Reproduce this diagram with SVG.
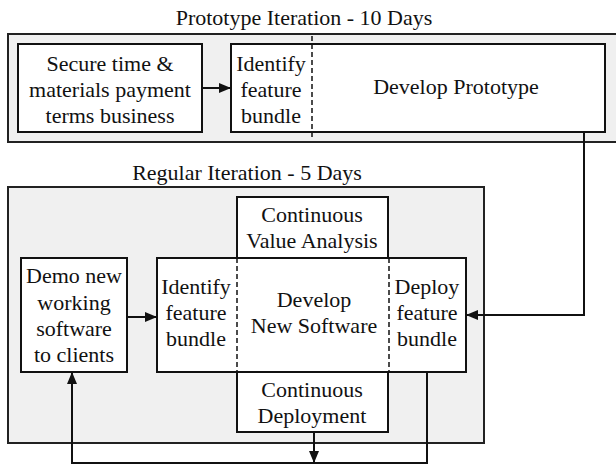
<svg xmlns="http://www.w3.org/2000/svg" width="616" height="465" viewBox="0 0 616 465">
<defs>
<marker id="ah" markerWidth="12" markerHeight="10" refX="11" refY="5" orient="auto" markerUnits="userSpaceOnUse">
<path d="M0,0 L12,5 L0,10 Z" fill="#111"/>
</marker>
<style>
text{font-family:"Liberation Serif","Times New Roman",serif;font-size:22px;fill:#111;text-anchor:middle}
.grp{fill:#f0f0f0;stroke:#222;stroke-width:2}
.box{fill:#fff;stroke:#111;stroke-width:2}
.dash{stroke:#111;stroke-width:1.5;stroke-dasharray:5,3;fill:none}
.conn{fill:none;stroke:#111;stroke-width:2}
</style>
</defs>
<g id="prototype-iteration">
<rect class="grp" x="8" y="34" width="620" height="108"/>
<text x="304" y="25">Prototype Iteration - 10 Days</text>
</g>
<g id="regular-iteration">
<rect class="grp" x="8" y="187" width="476" height="256"/>
<text x="247" y="180">Regular Iteration - 5 Days</text>
</g>
<g id="secure">
<rect class="box" x="18" y="44" width="184" height="88"/>
<text x="110" y="71">Secure time &amp;</text>
<text x="110" y="97">materials payment</text>
<text x="110" y="123">terms business</text>
</g>
<g id="develop-prototype">
<rect class="box" x="231" y="44" width="374" height="88"/>
<line class="dash" x1="312" y1="36" x2="312" y2="140"/>
<text x="271" y="71">Identify</text>
<text x="271" y="97">feature</text>
<text x="271" y="123">bundle</text>
<text x="456" y="94">Develop Prototype</text>
</g>
<g id="cva">
<rect class="box" x="237" y="197" width="151" height="61"/>
<text x="312" y="222">Continuous</text>
<text x="312" y="248">Value Analysis</text>
</g>
<g id="develop-software">
<rect class="box" x="157" y="258" width="309" height="114"/>
<line class="dash" x1="237" y1="258" x2="237" y2="372"/>
<line class="dash" x1="389" y1="258" x2="389" y2="372"/>
<text x="196" y="294">Identify</text>
<text x="196" y="320">feature</text>
<text x="196" y="346">bundle</text>
<text x="314" y="307">Develop</text>
<text x="314" y="333">New Software</text>
<text x="427" y="294">Deploy</text>
<text x="427" y="320">feature</text>
<text x="427" y="346">bundle</text>
</g>
<g id="cd">
<rect class="box" x="237" y="372" width="151" height="60"/>
<text x="312" y="397">Continuous</text>
<text x="312" y="423">Deployment</text>
</g>
<g id="demo">
<rect class="box" x="21" y="258" width="106" height="114"/>
<text x="74" y="283">Demo new</text>
<text x="74" y="310">working</text>
<text x="74" y="336">software</text>
<text x="74" y="362">to clients</text>
</g>
<g id="connectors">
<line class="conn" x1="202" y1="88" x2="230" y2="88" marker-end="url(#ah)"/>
<polyline class="conn" points="584,132 584,315 467,315" marker-end="url(#ah)"/>
<line class="conn" x1="127" y1="317" x2="156" y2="317" marker-end="url(#ah)"/>
<polyline class="conn" points="427,372 427,463 72,463 72,373" marker-end="url(#ah)"/>
<line class="conn" x1="314" y1="432" x2="314" y2="462" marker-end="url(#ah)"/>
</g>
</svg>
